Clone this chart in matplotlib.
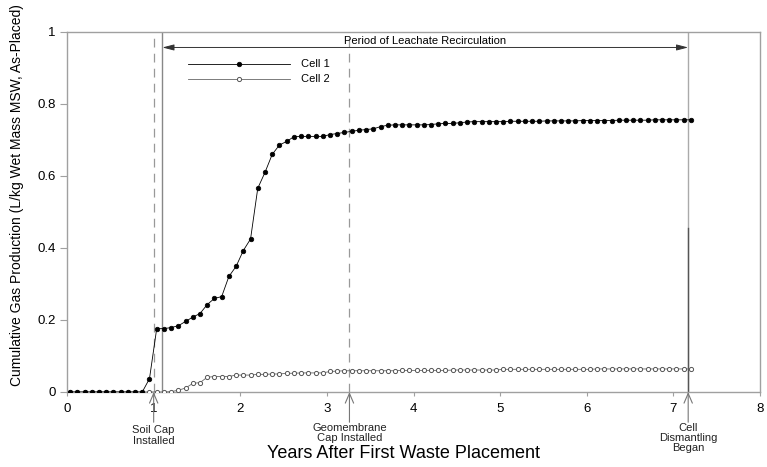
import numpy as np
import matplotlib
matplotlib.use("Agg")
import matplotlib.pyplot as plt
import matplotlib.transforms as mtransforms

plt.rcParams['font.family'] = ['Liberation Sans', 'DejaVu Sans']

# monthly readings, years after first waste placement
months = np.arange(87)
years = (months + 0.42) / 12.0

cell1 = [0, 0, 0, 0, 0, 0, 0, 0, 0, 0, 0,
         0.037, 0.176, 0.176, 0.179, 0.184, 0.196, 0.208, 0.218, 0.243, 0.260,
         0.265, 0.321, 0.349, 0.393, 0.425, 0.566, 0.610, 0.660, 0.686, 0.696,
         0.709, 0.710, 0.710, 0.710, 0.710, 0.715, 0.718, 0.721, 0.724, 0.727,
         0.729, 0.731, 0.737, 0.741, 0.742, 0.742, 0.742, 0.742, 0.742, 0.743,
         0.745, 0.746, 0.746, 0.748, 0.750,
         0.751, 0.751, 0.751, 0.751, 0.751, 0.752, 0.752, 0.752, 0.752, 0.752,
         0.753, 0.753, 0.753, 0.753, 0.753, 0.754, 0.754, 0.754, 0.754, 0.754,
         0.755, 0.755, 0.755, 0.755, 0.755, 0.756, 0.756, 0.756, 0.756, 0.756,
         0.756]

cell2 = [0, 0, 0, 0, 0, 0, 0, 0, 0, 0, 0, 0, 0, 0,
         0.001, 0.005, 0.011, 0.024, 0.026, 0.041, 0.043, 0.043, 0.043, 0.047,
         0.047, 0.047, 0.049, 0.049, 0.050, 0.050, 0.052, 0.052, 0.053, 0.053,
         0.053, 0.053, 0.057, 0.058,
         0.059, 0.059, 0.059, 0.059, 0.059, 0.059, 0.059, 0.059,
         0.060, 0.060, 0.060, 0.060, 0.060, 0.060, 0.060,
         0.061, 0.061, 0.061, 0.061, 0.061, 0.061, 0.061,
         0.063, 0.063, 0.063, 0.063, 0.063, 0.063, 0.063, 0.063, 0.063, 0.063,
         0.063, 0.063, 0.063,
         0.064, 0.064, 0.064, 0.064, 0.064, 0.064, 0.064, 0.064, 0.064, 0.064,
         0.064, 0.064, 0.064, 0.064]

# events (years)
soil_cap = 1.0
recirc_start = 1.1
geomembrane = 3.26
dismantling = 7.17

fig = plt.figure(figsize=(7.67, 4.67), dpi=100)
ax = fig.add_axes([0.0874, 0.1606, 0.9036, 0.7709])

grey = '#a0a0a0'
ax.axvline(soil_cap, color='#999999', lw=0.9, ls=(0, (7, 5)), zorder=1)
ax.axvline(geomembrane, color='#999999', lw=0.9, ls=(0, (7, 5)), zorder=1)
ax.axvline(recirc_start, color='#888888', lw=1.0, zorder=1)
ax.axvline(dismantling, color='#aaaaaa', lw=1.0, zorder=1)
ax.plot([dismantling, dismantling], [0, 0.455], color='#555555', lw=1.0, zorder=1)

l2, = ax.plot(years, cell2, color='#666666', lw=0.6, marker='o', ms=3.0,
              mfc='white', mec='#555555', mew=0.7, label='Cell 2', zorder=3)
l1, = ax.plot(years, cell1, color='black', lw=0.6, marker='o', ms=3.3,
              mfc='black', mec='black', mew=0.5, label='Cell 1', zorder=4)

ax.set_xlim(0, 8)
ax.set_ylim(0, 1)
ax.set_xticks(range(9))
ax.set_yticks([0, 0.2, 0.4, 0.6, 0.8, 1])
ax.set_yticklabels(['0', '0.2', '0.4', '0.6', '0.8', '1'])
for s in ax.spines.values():
    s.set_color(grey)
    s.set_linewidth(1.0)
ax.tick_params(axis='y', direction='out', length=5, width=0.8, color=grey,
               labelsize=9.5, pad=3)
ax.tick_params(axis='x', direction='out', length=3, width=0.8, color=grey,
               labelsize=9.5, pad=5)

ax.set_xlabel('Years After First Waste Placement', fontsize=13)
ax.xaxis.set_label_coords(0.486, -0.146)
ax.set_ylabel('Cumulative Gas Production (L/kg Wet Mass MSW, As-Placed)', fontsize=10)
ax.yaxis.set_label_coords(-0.062, 0.547)

leg = ax.legend(handles=[l1, l2], loc='center left', bbox_to_anchor=(0.1746, 0.889),
                frameon=False, fontsize=8, handlelength=9.2, handletextpad=1.0,
                labelspacing=0.45, borderpad=0, borderaxespad=0, numpoints=1)

# period of leachate recirculation
ax.annotate('', xy=(recirc_start, 0.957), xytext=(dismantling, 0.957),
            arrowprops=dict(arrowstyle='<|-|>,head_length=0.7,head_width=0.18',
                            color='#333333', lw=0.7, shrinkA=0, shrinkB=0))
ax.text((recirc_start + dismantling) / 2, 0.962, 'Period of Leachate Recirculation',
        ha='center', va='bottom', fontsize=8)

# event markers below the axis
trans = mtransforms.blended_transform_factory(ax.transData, ax.transAxes)
events = [(soil_cap, 'Soil Cap\nInstalled', -0.092),
          (geomembrane, 'Geomembrane\nCap Installed', -0.085),
          (dismantling, 'Cell\nDismantling\nBegan', -0.085)]
for xe, txt, ty in events:
    ax.annotate('', xy=(xe, 0), xycoords=trans, xytext=(xe, -0.084), textcoords=trans,
                arrowprops=dict(arrowstyle='->,head_length=0.7,head_width=0.3',
                                color='#777777', lw=0.8, shrinkA=0, shrinkB=0),
                annotation_clip=False)
    ax.text(xe, ty, txt, transform=trans, ha='center', va='top', fontsize=8,
            linespacing=1.05, color='#222222')

fig.savefig('out.png', dpi=100)
